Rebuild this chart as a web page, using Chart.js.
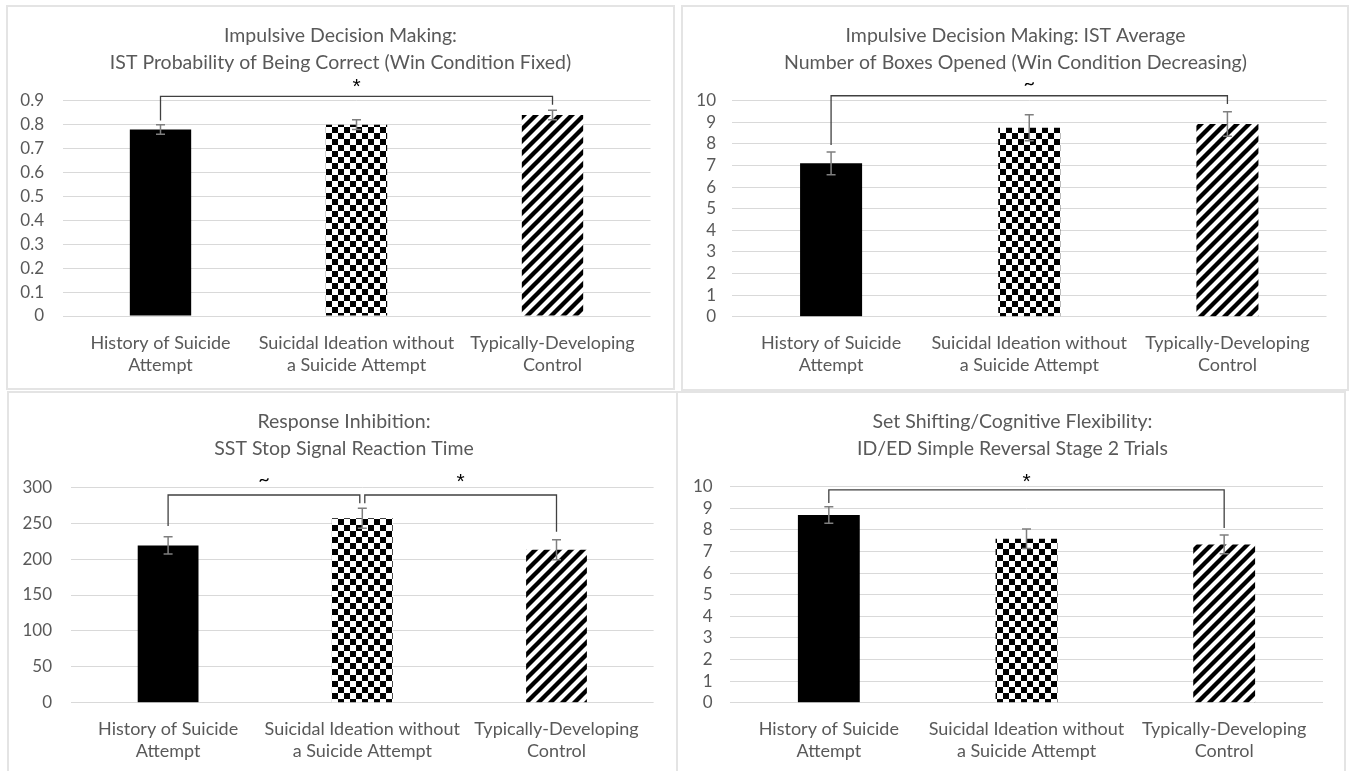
<!DOCTYPE html>
<html>
<head>
<meta charset="utf-8">
<script src="https://cdn.jsdelivr.net/npm/chart.js@4.4.0/dist/chart.umd.min.js"></script>
<style>
  html, body { margin: 0; padding: 0; background: #fff; overflow: hidden; }
  body { width: 1352px; height: 771px; position: relative; }
  .frame { position: absolute; border: 2px solid #e4e4e4; box-sizing: border-box; }
  canvas { position: absolute; }
</style>
</head>
<body>
<div class="frame" style="left:6px;top:5px;width:669px;height:385px"></div>
<div class="frame" style="left:681px;top:5px;width:668px;height:386px"></div>
<div class="frame" style="left:7px;top:391px;width:671px;height:400px"></div>
<div class="frame" style="left:676px;top:391px;width:670px;height:400px"></div>
<canvas id="c1" width="665" height="381" style="left:8px;top:7px"></canvas>
<canvas id="c2" width="667" height="382" style="left:682px;top:7px"></canvas>
<canvas id="c3" width="672" height="378" style="left:8px;top:393px"></canvas>
<canvas id="c4" width="667" height="378" style="left:679px;top:393px"></canvas>
<script>
// groups (x categories)
var groups = [['History of Suicide', 'Attempt'], ['Suicidal Ideation without', 'a Suicide Attempt'], ['Typically-Developing', 'Control']];

// IST probability of being correct
var istProbMeans = [0.78, 0.80, 0.84];
var istProbErr = [0.02, 0.02, 0.02];
var istProbTicks = ['0', '0.1', '0.2', '0.3', '0.4', '0.5', '0.6', '0.7', '0.8', '0.9'];
var istProbSig = [{from: 0, to: 2, level: 0.918, legFrom: 0.817, legTo: 0.883, mark: '*', markLevel: 0.97}];

// IST boxes opened
var istBoxMeans = [7.1, 8.75, 8.92];
var istBoxErr = [0.53, 0.6, 0.57];
var istBoxTicks = ['0', '1', '2', '3', '4', '5', '6', '7', '8', '9', '10'];
var istBoxSig = [{from: 0, to: 2, level: 10.23, legFrom: 7.95, legTo: 9.85, mark: '~', markLevel: 10.8}];

// SST stop signal reaction time
var sstMeans = [219, 257, 213];
var sstErr = [12, 14, 14];
var sstTicks = ['0', '50', '100', '150', '200', '250', '300'];
var sstSig = [
    {from: 0, to: 1, level: 289.3, legFrom: 246, legTo: 277.7, mark: '~', markLevel: 311},
    {from: 1, to: 2, level: 289.3, legFrom: 277.7, legTo: 238, mark: '*', markLevel: 311}
];

// ID/ED simple reversal stage 2 trials
var idedMeans = [8.69, 7.59, 7.33];
var idedErr = [0.38, 0.45, 0.43];
var idedTicks = ['0', '1', '2', '3', '4', '5', '6', '7', '8', '9', '10'];
var idedSig = [{from: 0, to: 2, level: 9.85, legFrom: 9.25, legTo: 8.09, mark: '*', markLevel: 10.36}];

var FONT = "Lato, 'Liberation Sans', sans-serif";
var GRAY = '#595959';

function checker(ctx, s) {
    var c = document.createElement('canvas');
    c.width = c.height = s * 2;
    var g = c.getContext('2d');
    g.fillStyle = '#fff'; g.fillRect(0, 0, s * 2, s * 2);
    g.fillStyle = '#000'; g.fillRect(0, 0, s, s); g.fillRect(s, s, s, s);
    return ctx.createPattern(c, 'repeat');
}

function stripes(ctx, p, w) {
    var c = document.createElement('canvas');
    c.width = c.height = p;
    var g = c.getContext('2d');
    g.fillStyle = '#fff'; g.fillRect(0, 0, p, p);
    g.strokeStyle = '#000'; g.lineWidth = w;
    g.beginPath();
    g.moveTo(-p, 2 * p); g.lineTo(2 * p, -p);
    g.moveTo(-p, p); g.lineTo(p, -p);
    g.moveTo(0, 2 * p); g.lineTo(2 * p, 0);
    g.stroke();
    return ctx.createPattern(c, 'repeat');
}

// error bars + significance brackets
function sigPlugin(err, sig) {
    return {
        id: 'sig',
        afterDatasetsDraw: function(chart) {
            var ctx = chart.ctx, y = chart.scales.y, meta = chart.getDatasetMeta(0);
            var vals = chart.data.datasets[0].data;
            ctx.save();
            ctx.strokeStyle = '#7f7f7f';
            ctx.lineWidth = 1.5;
            err.forEach(function(e, i) {
                var x = meta.data[i].x;
                var yt = y.getPixelForValue(vals[i] + e), yb = y.getPixelForValue(vals[i] - e);
                ctx.beginPath();
                ctx.moveTo(x, yt); ctx.lineTo(x, yb);
                ctx.moveTo(x - 4.5, yt); ctx.lineTo(x + 4.5, yt);
                ctx.moveTo(x - 4.5, yb); ctx.lineTo(x + 4.5, yb);
                ctx.stroke();
            });
            ctx.strokeStyle = '#404040';
            ctx.lineWidth = 1.3;
            sig.forEach(function(b) {
                var sharedL = sig.some(function(o) { return o !== b && o.to === b.from; });
                var sharedR = sig.some(function(o) { return o !== b && o.from === b.to; });
                var x1 = meta.data[b.from].x + (sharedL ? 2.5 : 0);
                var x2 = meta.data[b.to].x - (sharedR ? 2.5 : 0);
                var yl = y.getPixelForValue(b.level);
                ctx.beginPath();
                ctx.moveTo(x1, y.getPixelForValue(b.legFrom));
                ctx.lineTo(x1, yl);
                ctx.lineTo(x2, yl);
                ctx.lineTo(x2, y.getPixelForValue(b.legTo));
                ctx.stroke();
                ctx.fillStyle = '#000';
                ctx.font = b.mark === '*' ? "21px 'Liberation Sans', sans-serif" : '20px ' + FONT;
                ctx.textAlign = 'center';
                ctx.textBaseline = 'middle';
                ctx.fillText(b.mark, (x1 + x2) / 2, y.getPixelForValue(b.markLevel) + (b.mark === '*' ? 3 : 0));
            });
            ctx.restore();
        }
    };
}

function makePanel(id, title, means, err, ticks, sig, max, step, lay) {
    var el = document.getElementById(id);
    var ctx = el.getContext('2d');
    return new Chart(ctx, {
        type: 'bar',
        data: {
            labels: groups,
            datasets: [{
                data: means,
                backgroundColor: ['#000', checker(ctx, 6), stripes(ctx, 12, 4.3)],
                borderWidth: 0,
                barPercentage: 0.313,
                categoryPercentage: 1,
                yAxisID: 'y'
            }]
        },
        options: {
            responsive: false,
            animation: false,
            layout: {padding: 0},
            plugins: {
                legend: {display: false},
                tooltip: {enabled: false},
                title: {
                    display: true,
                    text: title,
                    color: GRAY,
                    font: {family: FONT, size: 19.5, weight: 'normal', lineHeight: 1.385},
                    padding: {top: 15.5, bottom: lay.tb}
                }
            },
            scales: {
                x: {
                    grid: {display: false},
                    border: {display: false},
                    ticks: {color: GRAY, font: {family: FONT, size: 18, lineHeight: 1.22}, padding: lay.xp, maxRotation: 0, autoSkip: false},
                    afterFit: function(s) { s.height = lay.xh; }
                },
                y: {
                    min: 0,
                    max: max,
                    ticks: {
                        stepSize: step,
                        autoSkip: false,
                        color: GRAY,
                        font: {family: FONT, size: 17},
                        padding: lay.yp,
                        callback: function(v, i) { return ticks[i]; }
                    },
                    grid: {color: '#d9d9d9', drawTicks: false},
                    border: {display: false},
                    afterFit: function(s) { s.width = lay.yw; }
                },
                // empty right axis, only keeps the right margin
                y2: {
                    type: 'linear',
                    position: 'right',
                    grid: {display: false},
                    border: {display: false},
                    ticks: {display: false},
                    afterFit: function(s) { s.width = lay.rw; }
                }
            }
        },
        plugins: [sigPlugin(err, sig)]
    });
}

makePanel('c1', ['Impulsive Decision Making:', 'IST Probability of Being Correct (Win Condition Fixed)'],
    istProbMeans, istProbErr, istProbTicks, istProbSig, 0.9, 0.1,
    {yw: 54.5, rw: 22.5, yp: 18.5, tb: 24.2, xh: 72, xp: 8});
makePanel('c2', ['Impulsive Decision Making: IST Average', 'Number of Boxes Opened (Win Condition Decreasing)'],
    istBoxMeans, istBoxErr, istBoxTicks, istBoxSig, 10, 1,
    {yw: 50, rw: 22.5, yp: 16, tb: 24.2, xh: 72.3, xp: 7.5});
makePanel('c3', ['Response Inhibition:', 'SST Stop Signal Reaction Time'],
    sstMeans, sstErr, sstTicks, sstSig, 300, 50,
    {yw: 63, rw: 26.4, yp: 19, tb: 24.8, xh: 68.3, xp: 7.3});
makePanel('c4', ['Set Shifting/Cognitive Flexibility:', 'ID/ED Simple Reversal Stage 2 Trials'],
    idedMeans, idedErr, idedTicks, idedSig, 10, 1,
    {yw: 51, rw: 23, yp: 17.3, tb: 24.2, xh: 68.3, xp: 7.6});
</script>
</body>
</html>
